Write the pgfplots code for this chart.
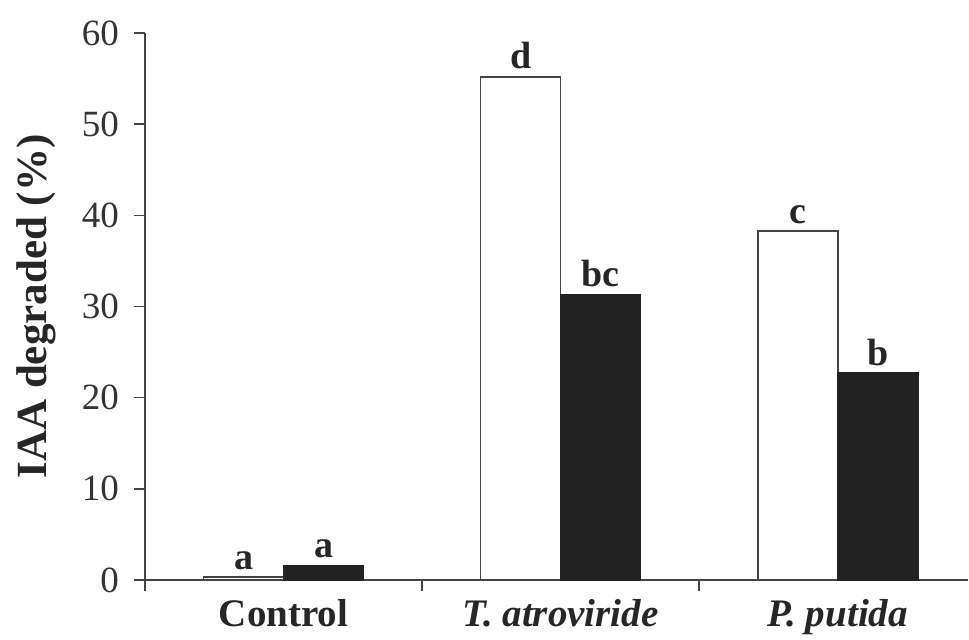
\documentclass[border=0pt]{standalone}
\usepackage{fontspec}
\setmainfont{Liberation Serif}
\usepackage{pgfplots}
\pgfplotsset{compat=1.18}
\definecolor{barblack}{HTML}{222222}
\definecolor{axgray}{HTML}{444444}
\begin{document}
\begin{tikzpicture}
\path[use as bounding box] (-72.5pt,-30pt) rectangle (412pt,290pt);
\begin{axis}[
  at={(0,0)}, anchor=south west,
  scale only axis, width=411.5pt, height=273.5pt,
  xmin=-0.5, xmax=2.47, ymin=0, ymax=60,
  ybar, bar width=40pt,
  axis lines*=left,
  axis line style={axgray, line width=0.8pt},
  every tick/.style={axgray, line width=0.8pt},
  tick align=outside, major tick length=5.5pt,
  ytick={0,10,...,60},
  xtick={-0.5,0.5,1.5}, xticklabels={},
  extra x ticks={0,1,2},
  extra x tick labels={\textbf{Control},\textbf{\textit{T. atroviride}},\textbf{\textit{P. putida}}},
  extra x tick style={major tick length=0pt, tick label style={font=\fontsize{19.5}{22}\selectfont, text=black!85, yshift=-6pt}},
  /pgf/number format/assume math mode=true,
  yticklabel style={font=\fontsize{18.5}{20}\selectfont, text=black!80, xshift=-4pt},
  ylabel={\textbf{IAA degraded (\%)}},
  ylabel style={font=\fontsize{21.5}{24}\selectfont, text=black!85, yshift=6pt},
  nodes near coords style={font=\bfseries\fontsize{19}{20}\selectfont, text=black!85},
  point meta=explicit symbolic,
  clip=false,
]
\addplot[ybar, bar shift=-20pt, fill=white, draw=axgray, line width=0.8pt, nodes near coords]
  coordinates {(0,0.3) [a] (1,55.2) [d] (2,38.3) [c]};
\addplot[ybar, bar shift=20pt, fill=barblack, draw=barblack, line width=0.8pt, nodes near coords]
  coordinates {(0,1.6) [a] (1,31.3) [bc] (2,22.7) [b]};
\end{axis}
\end{tikzpicture}
\end{document}
